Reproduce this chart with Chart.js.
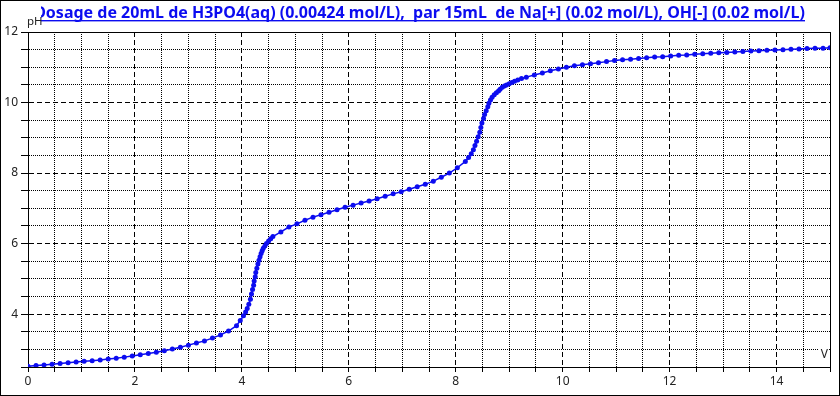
<!DOCTYPE html>
<html>
<head>
<meta charset="utf-8">
<script src="https://cdn.jsdelivr.net/npm/chart.js@4.4.1/dist/chart.umd.min.js"></script>
<style>
  html, body { margin: 0; padding: 0; background: #fff; }
  #wrap { width: 840px; height: 396px; }
</style>
</head>
<body>
<div id="wrap"><canvas id="dosage" width="840" height="396"></canvas></div>
<script>
const titleText = 'Dosage de 20mL de H3PO4(aq) (0.00424 mol/L),  par 15mL  de Na[+] (0.02 mol/L), OH[-] (0.02 mol/L)';
const xAxisLabel = 'V';
const yAxisLabel = 'pH';

// volume of NaOH added (mL)
const volumes = [
  0.00, 0.15, 0.30, 0.45, 0.60, 0.75, 0.90, 1.05, 1.20, 1.35,
  1.50, 1.65, 1.80, 1.95, 2.10, 2.25, 2.40, 2.55, 2.70, 2.85,
  3.00, 3.15, 3.30, 3.45, 3.60, 3.75, 3.90,
  3.97, 4.03, 4.07, 4.10, 4.13, 4.16, 4.18, 4.20, 4.22, 4.23,
  4.25, 4.26, 4.28, 4.30, 4.32, 4.34, 4.36, 4.38, 4.40, 4.43,
  4.46, 4.50, 4.54, 4.58,
  4.73, 4.88, 5.03, 5.18, 5.33, 5.48, 5.63, 5.78, 5.93, 6.08,
  6.23, 6.38, 6.53, 6.68, 6.83, 6.98, 7.13, 7.28, 7.43, 7.58,
  7.73, 7.88, 8.03, 8.18,
  8.24, 8.29, 8.33, 8.36, 8.39, 8.42, 8.45, 8.47, 8.49, 8.52,
  8.54, 8.57, 8.60, 8.62, 8.65, 8.68, 8.72, 8.76, 8.80, 8.83,
  8.87, 8.91, 8.95, 9.00, 9.05, 9.10, 9.16, 9.23,
  9.32, 9.47, 9.62, 9.77, 9.92, 10.07, 10.22, 10.37, 10.52, 10.67,
  10.82, 10.97, 11.12, 11.27, 11.42, 11.57, 11.72, 11.87, 12.02, 12.17,
  12.32, 12.47, 12.62, 12.77, 12.92, 13.07, 13.22, 13.37, 13.52, 13.67,
  13.82, 13.97, 14.12, 14.27, 14.42, 14.57, 14.72, 14.87, 15.00
];

const phValues = [
  2.52, 2.54, 2.56, 2.58, 2.60, 2.62, 2.64, 2.66, 2.68, 2.70,
  2.73, 2.75, 2.78, 2.81, 2.85, 2.88, 2.92, 2.96, 3.01, 3.06,
  3.12, 3.18, 3.24, 3.32, 3.41, 3.52, 3.67,
  3.82, 3.95, 4.06, 4.16, 4.28, 4.42, 4.57, 4.70, 4.82, 4.94,
  5.06, 5.18, 5.30, 5.42, 5.53, 5.63, 5.72, 5.80, 5.87, 5.93,
  6.00, 6.07, 6.14, 6.20,
  6.33, 6.47, 6.56, 6.66, 6.75, 6.82, 6.89, 6.96, 7.03, 7.09,
  7.15, 7.21, 7.27, 7.34, 7.41, 7.47, 7.54, 7.61, 7.68, 7.77,
  7.88, 8.00, 8.15, 8.33,
  8.44, 8.55, 8.66, 8.78, 8.90, 9.03, 9.16, 9.29, 9.42, 9.55,
  9.66, 9.77, 9.88, 9.98, 10.07, 10.15, 10.22, 10.28, 10.33, 10.38,
  10.43, 10.47, 10.50, 10.53, 10.57, 10.60, 10.64, 10.68,
  10.72, 10.78, 10.84, 10.90, 10.95, 11.00, 11.04, 11.07, 11.10, 11.13,
  11.16, 11.19, 11.21, 11.23, 11.25, 11.27, 11.29, 11.30, 11.32, 11.34,
  11.35, 11.37, 11.38, 11.40, 11.41, 11.42, 11.43, 11.45, 11.46, 11.47,
  11.48, 11.49, 11.50, 11.51, 11.52, 11.53, 11.54, 11.54, 11.55
];

const xMin = 0, xMax = 15;
const yMin = 2.5, yMax = 12;
const gridStep = 0.5;   // dotted minor lines
const majorStep = 2;    // dashed major lines + labels

// solid at the frame, dashed on majors, dotted on minors
function gridDash(min, max) {
  return (ctx) => {
    if (!ctx.tick) return [];
    const v = ctx.tick.value;
    if (v === min || v === max) return [];
    return v % majorStep === 0 ? [5, 3] : [1, 1];
  };
}

const decorations = {
  id: 'decorations',
  beforeDraw(chart) {
    const ctx = chart.ctx;
    ctx.save();
    ctx.fillStyle = '#fff';
    ctx.fillRect(0, 0, chart.width, chart.height);
    ctx.restore();
  },
  afterDraw(chart) {
    const { ctx, chartArea } = chart;
    ctx.save();

    // title, underlined
    ctx.font = 'bold 16px "Noto Sans"';
    ctx.fillStyle = '#0c0cf0';
    ctx.textAlign = 'center';
    ctx.textBaseline = 'alphabetic';
    const cx = 419.5;
    ctx.fillText(titleText, cx, 18);
    const w = ctx.measureText(titleText).width;
    ctx.fillRect(Math.round(cx - w / 2), 20, Math.round(w), 1.4);

    // pH label sits on a white box over the title start
    ctx.fillStyle = '#fff';
    ctx.fillRect(chartArea.left - 1, 3, 14, 25);
    ctx.font = '11.5px "Noto Sans"';
    ctx.fillStyle = '#222';
    ctx.textAlign = 'left';
    ctx.fillText(yAxisLabel, chartArea.left - 1, 25);

    // V label, bottom right inside the plot
    ctx.fillStyle = '#fff';
    ctx.fillRect(chartArea.right - 12, chartArea.bottom - 22, 11, 14);
    ctx.fillStyle = '#222';
    ctx.textAlign = 'right';
    ctx.font = '12px "Noto Sans"';
    ctx.fillText(xAxisLabel, chartArea.right - 2, chartArea.bottom - 9);

    // outer frame
    ctx.strokeStyle = '#000';
    ctx.lineWidth = 1;
    ctx.strokeRect(0.5, 0.5, chart.width - 1, chart.height - 1);
    ctx.restore();
  }
};

const points = volumes.map((v, i) => ({ x: v, y: phValues[i] }));

new Chart(document.getElementById('dosage'), {
  type: 'line',
  data: {
    datasets: [{
      data: points,
      borderColor: '#0c0cf0',
      backgroundColor: '#0c0cf0',
      borderWidth: 1.5,
      pointRadius: 2.5,
      pointBorderWidth: 0,
      pointStyle: 'circle',
      tension: 0
    }]
  },
  options: {
    responsive: false,
    animation: false,
    devicePixelRatio: 1,
    layout: { padding: { top: 32, right: 10, left: 0, bottom: 0 } },
    plugins: {
      legend: { display: false },
      tooltip: { enabled: false },
      title: { display: false }
    },
    scales: {
      x: {
        type: 'linear',
        min: xMin, max: xMax,
        afterFit: (s) => { s.height = 29; },
        grid: { color: '#000', lineWidth: 1, tickLength: 5, tickColor: '#000' },
        border: { display: true, color: '#000', width: 1, dash: gridDash(xMin, xMax) },
        ticks: {
          stepSize: gridStep,
          autoSkip: false,
          maxRotation: 0,
          padding: 2,
          color: '#222',
          font: { family: 'Noto Sans', size: 12 },
          callback: (v) => (v % majorStep === 0 ? String(v) : '')
        }
      },
      y: {
        type: 'linear',
        min: yMin, max: yMax,
        afterFit: (s) => { s.width = 28; },
        grid: { color: '#000', lineWidth: 1, tickLength: 7, tickColor: '#000' },
        border: { display: true, color: '#000', width: 1, dash: gridDash(yMin, yMax) },
        ticks: {
          stepSize: gridStep,
          autoSkip: false,
          padding: 3,
          color: '#222',
          font: { family: 'Noto Sans', size: 12 },
          callback: (v) => (v % majorStep === 0 && v >= 4 ? String(v) : '')
        }
      }
    }
  },
  plugins: [decorations]
});
</script>
</body>
</html>
